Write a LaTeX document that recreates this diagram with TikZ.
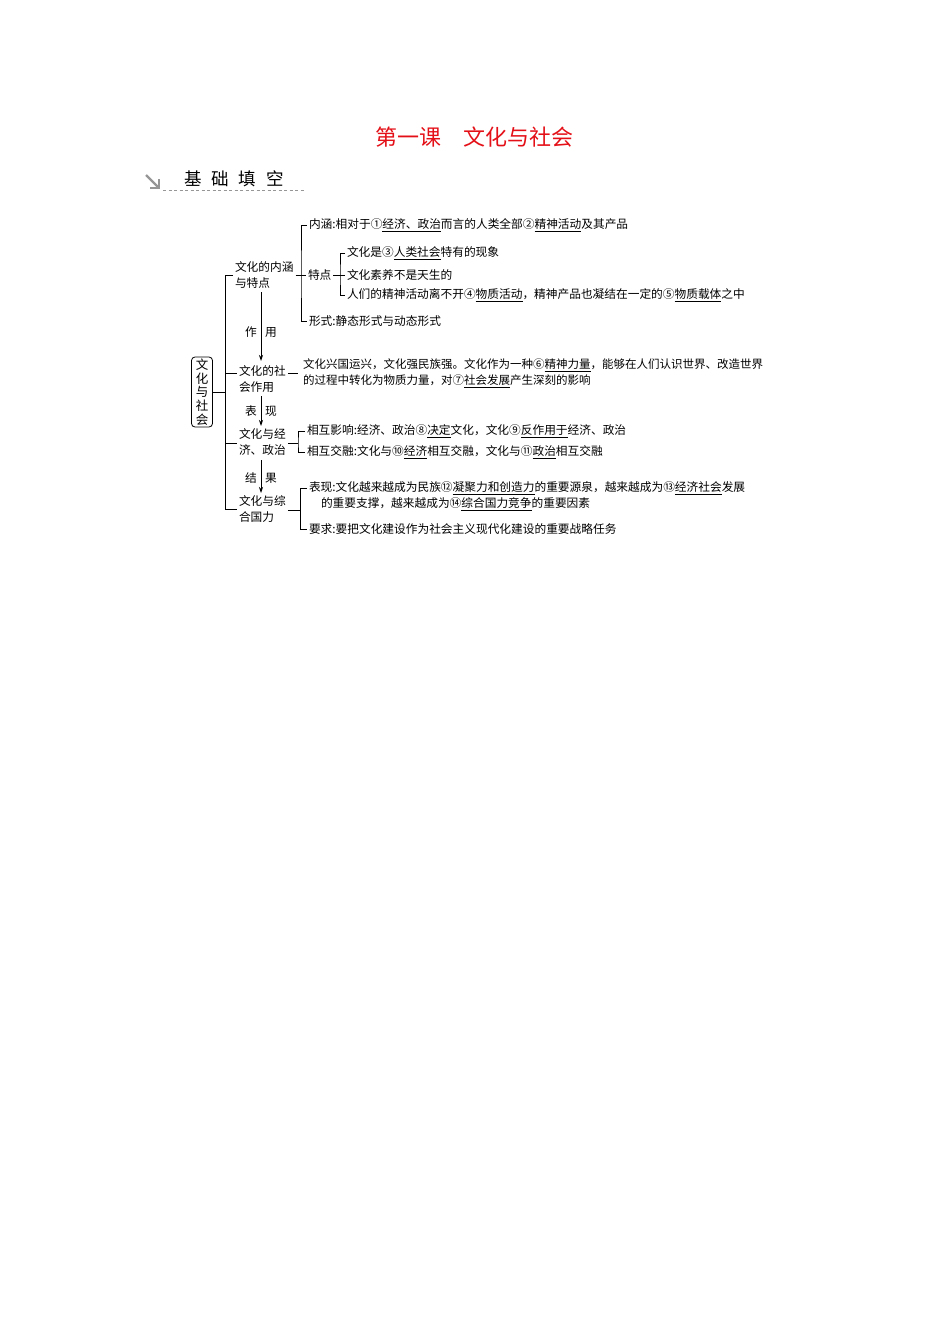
\documentclass[tikz,border=0pt]{standalone}
\usepackage{fontspec}
\setmainfont{Noto Sans CJK SC}
\usetikzlibrary{arrows.meta}
\definecolor{titlered}{RGB}{228,16,24}
\definecolor{arrgray}{RGB}{150,150,150}
\newcommand\ans[1]{\underline{#1}}
\begin{document}
\begin{tikzpicture}[x=1pt,y=-1pt,
  every node/.style={inner xsep=2pt, inner ysep=0pt, outer sep=0pt, font=\fontsize{11.7}{16}\selectfont},
  txt/.style={anchor=west},
  two/.style={anchor=west, align=left},
  ln/.style={line width=0.8pt},
  arr/.style={line width=0.8pt, -{Stealth[length=6pt,width=4pt]}},
  lab/.style={font=\fontsize{11.7}{14}\selectfont}
]
\useasboundingbox (0,0) rectangle (950,1344);

% title and heading
\node[font=\fontsize{22}{24}\selectfont, text=titlered] (title) at (474.5,137) {第一课　文化与社会};
\node[anchor=west, font=\fontsize{17.5}{20}\selectfont] (head) at (182,179) {基\hspace{10pt}础\hspace{10pt}填\hspace{10pt}空};
\coordinate (ha) at (146,175);
\coordinate (hb) at (159,188);
\coordinate (hl) at (150,188);
\coordinate (hu) at (159,179);
\draw[arrgray, line width=2.2pt] (ha) -- (hb);
\draw[arrgray, line width=2.2pt, line join=miter] (hl) -- (hb) -- (hu);
\coordinate (d0) at (163,190);
\coordinate (d9) at (305,190);
\draw[arrgray, line width=0.7pt, dash pattern=on 3pt off 2.5pt] (d0) -- (d9);

% root
\node[draw, ln, rounded corners=3.5pt, minimum width=21pt, minimum height=70pt, inner xsep=0pt, align=center,
      font=\fontsize{12.5}{13.6}\selectfont] (root) at (202,392) {文\\化\\与\\社\\会};

% second level
\node[two] (b1) at (233,275) {文化的内涵\\与特点};
\node[two] (b2) at (237,379) {文化的社\\会作用};
\node[two] (b3) at (237,442) {文化与经\\济、政治};
\node[two] (b4) at (237,509) {文化与综\\合国力};

\coordinate (s1) at (225,275);
\coordinate (s2) at (225,373);
\coordinate (s3) at (225,443);
\coordinate (s4) at (225,509);
\draw[ln] (root.east) -- (root.east -| s1);
\draw[ln] (b1.west) -| (s4) -- (b4.west);
\draw[ln] (s2) -- (b2.west |- s2);
\draw[ln] (s3) -- (b3.west |- s3);

% arrows between second-level nodes
\coordinate (a1s) at (261,292);
\coordinate (a1e) at (261,361);
\coordinate (a2s) at (261,396);
\coordinate (a2e) at (261,426);
\coordinate (a3s) at (261,460);
\coordinate (a3e) at (261,493);
\draw[arr] (a1s) -- (a1e);
\draw[arr] (a2s) -- (a2e);
\draw[arr] (a3s) -- (a3e);
\node[lab] (l1a) at (251,332) {作};
\node[lab] (l1b) at (271,332) {用};
\node[lab] (l2a) at (251,411) {表};
\node[lab] (l2b) at (271,411) {现};
\node[lab] (l3a) at (251,478) {结};
\node[lab] (l3b) at (271,478) {果};

% branch 1
\node[txt] (c1) at (307,225) {内涵:相对于①\ans{经济、政治}而言的人类全部②\ans{精神活动}及其产品};
\node[txt] (c2) at (306,275) {特点};
\node[txt] (c3) at (307,321) {形式:静态形式与动态形式};
\coordinate (k1) at (301,275);
\draw[ln] (c1.west) -| (k1) |- (c3.west);
\draw[ln] (b1.east) -- (c2.west);

\node[txt] (e1a) at (345,253) {文化是③\ans{人类社会}特有的现象};
\node[txt] (e1b) at (345,275) {文化素养不是天生的};
\node[txt] (e1c) at (345,295) {人们的精神活动离不开④\ans{物质活动}，精神产品也凝结在一定的⑤\ans{物质载体}之中};
\coordinate (k2) at (340,275);
\draw[ln] (e1a.west) -| (k2) |- (e1c.west);
\draw[ln] (c2.east) -- (e1b.west);

% branch 2
\node[two, font=\fontsize{11.5}{16}\selectfont] (f1) at (301,373) {文化兴国运兴，文化强民族强。文化作为一种⑥\ans{精神力量}，能够在人们认识世界、改造世界\\的过程中转化为物质力量，对⑦\ans{社会发展}产生深刻的影响};
\draw[ln] (b2.east |- s2) -- ([xshift=-3pt]f1.west |- s2);

% branch 3
\node[txt] (g1) at (305,431) {相互影响:经济、政治⑧\ans{决定}文化，文化⑨\ans{反作用于}经济、政治};
\node[txt] (g2) at (305,452) {相互交融:文化与⑩\ans{经济}相互交融，文化与⑪\ans{政治}相互交融};
\coordinate (k3) at (298,443);
\draw[ln] (g1.west) -| (k3) |- (g2.west);
\draw[ln] (b3.east |- k3) -- (k3);

% branch 4
\node[two] (h1) at (307,496.5) {表现:文化越来越成为民族⑫\ans{凝聚力和创造力}的重要源泉，越来越成为⑬\ans{经济社会}发展\\\hspace*{12pt}的重要支撑，越来越成为⑭\ans{综合国力竞争}的重要因素};
\node[txt] (h2) at (307,529) {要求:要把文化建设作为社会主义现代化建设的重要战略任务};
\coordinate (k4) at (300,488);
\coordinate (k5) at (300,510);
\draw[ln] (h1.west |- k4) -- (k4) |- (h2.west);
\draw[ln] (b4.east |- k5) -- (k5);
\end{tikzpicture}
\end{document}
